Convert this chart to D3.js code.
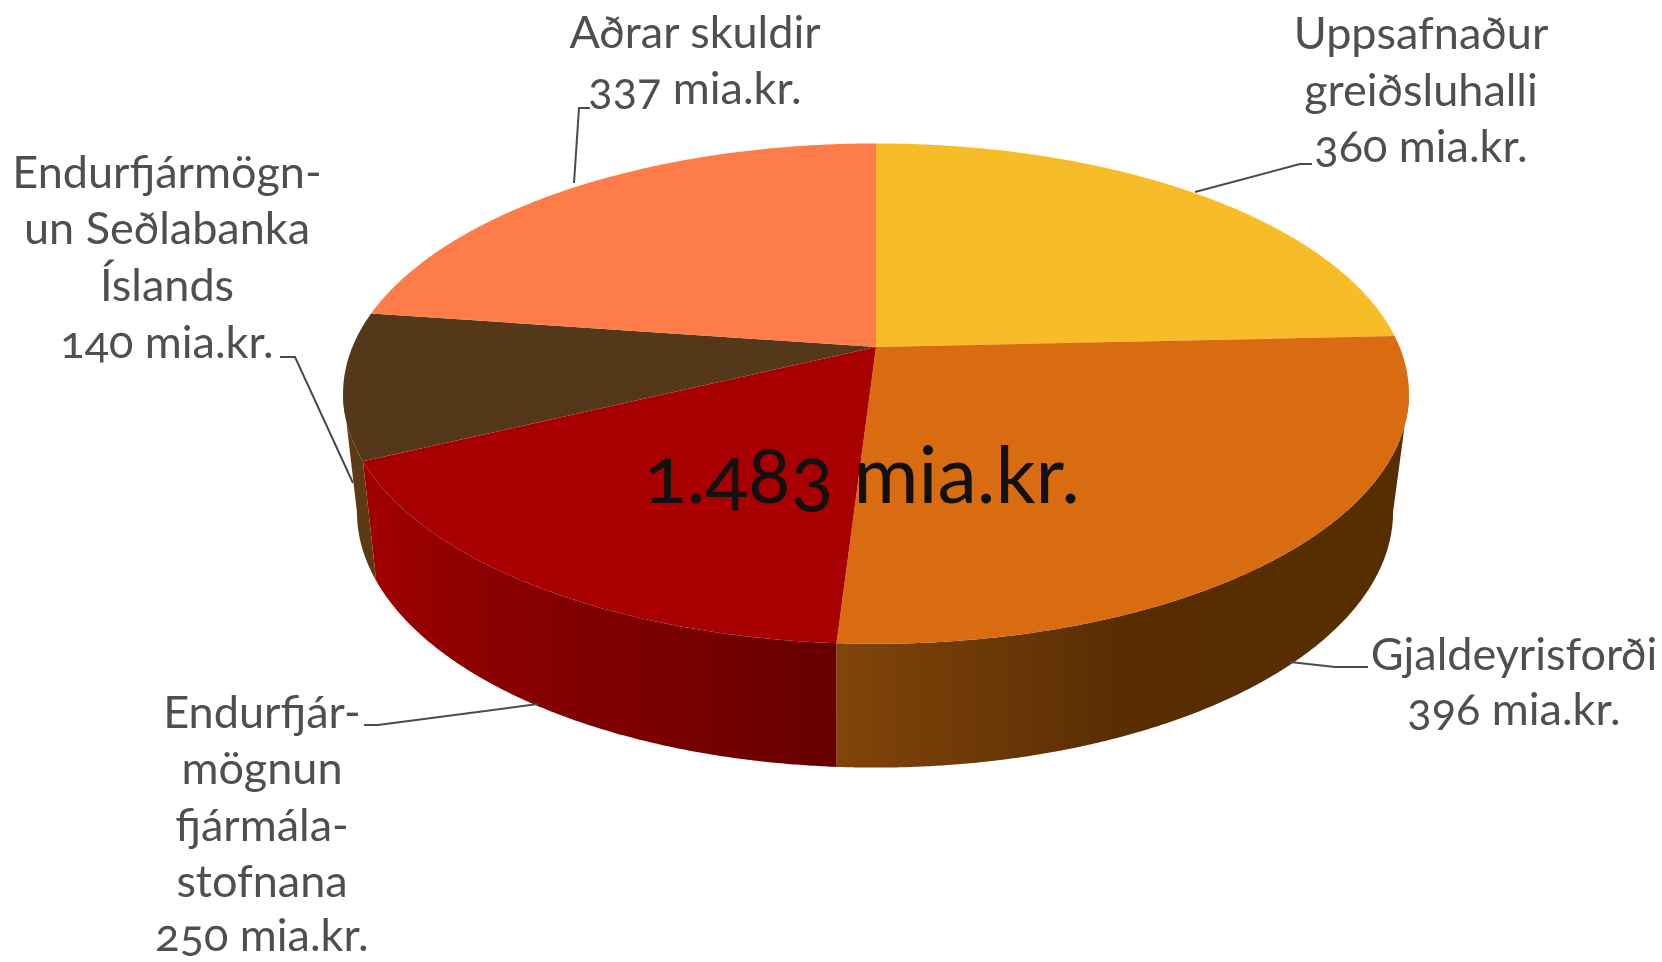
<!DOCTYPE html>
<html><head><meta charset="utf-8">
<script src="https://cdn.jsdelivr.net/npm/d3@7"></script>
<style>
html,body{margin:0;padding:0;background:#fff;overflow:hidden}
svg{display:block;filter:blur(0.55px)}
text{font-family:Lato,"Open Sans",sans-serif;font-variant-numeric:oldstyle-nums;font-feature-settings:"onum" 1,"lnum" 0;text-anchor:middle}
</style></head><body>
<svg id="c" width="1662" height="962"></svg>
<script>
// Data
const categories = ["Uppsafnaður greiðsluhalli","Gjaldeyrisforði","Endurfjármögnun fjármálastofnana","Endurfjármögnun Seðlabanka Íslands","Aðrar skuldir"];
const values = [360,396,250,140,337];
const totalLabel = "1.483 mia.kr.";
const labelLines = [
  ["Uppsafnaður","greiðsluhalli","360 mia.kr."],
  ["Gjaldeyrisforði","396 mia.kr."],
  ["Endurfjár-","mögnun","fjármála-","stofnana","250 mia.kr."],
  ["Endurfjármögn-","un Seðlabanka","Íslands","140 mia.kr."],
  ["Aðrar skuldir","337 mia.kr."]
];
const topColors = ["#f7bd28","#d96b10","#a80000","#55371a","#fe7c4a"];

// Layout
const labelPos = [
  {x:1421,y:[49,106,162]},
  {x:1514,y:[670,725]},
  {x:262,y:[728,784,841,897,951]},
  {x:167,y:[188,244,301,358]},
  {x:695,y:[48,104]}
];
const leaders = [
  [[1195,192],[1300,164],[1312,164]],
  [[1290,662],[1335,667],[1368,667]],
  [[538,704],[378,725],[364,725]],
  [[353,483],[295,357],[280,357]],
  [[574,183],[579,108],[590,108]]
];
const wallStops = {
  1:[[838,"#80450a"],[1000,"#6a3706"],[1130,"#582d02"],[1420,"#572d02"]],
  2:[[370,"#a00000"],[480,"#8c0000"],[650,"#7a0000"],[838,"#660000"]],
  3:[[340,"#5e3a14"],[380,"#5e3a14"]]
};
const K=0.1864;
const topDisk={cx:876,cy:347,a:523.6,b:241.5};
const botDisk={cx:875,cy:464,a:509,b:247};

const project=(d,t)=>{
  const u=Math.sin(t),v=Math.cos(t),w=1+K*v;
  return [d.cx+d.a*u/w,d.cy-d.b*v/w];
};
const svg=d3.select("#c");
const line=d3.line();
const arcs=d3.pie().sort(null).startAngle(0).endAngle(2*Math.PI)(values);
const steps=(a,b)=>d3.range(0,Math.max(2,Math.ceil((b-a)/0.005))+1).map((i,_,arr)=>a+(b-a)*i/(arr.length-1));

// side wall
const visA=Math.PI/2+Math.asin(K), visB=2*Math.PI-visA;
const defs=svg.append("defs");
Object.entries(wallStops).forEach(([i,st])=>{
  const g=defs.append("linearGradient").attr("id","w"+i).attr("gradientUnits","userSpaceOnUse")
    .attr("x1",st[0][0]).attr("x2",st[st.length-1][0]).attr("y1",0).attr("y2",0);
  st.forEach(s=>g.append("stop").attr("offset",(s[0]-st[0][0])/(st[st.length-1][0]-st[0][0])).attr("stop-color",s[1]));
});
svg.append("g").selectAll("path").data(arcs.filter((d,i)=>wallStops[i])).join("path")
  .attr("fill",d=>`url(#w${d.index})`)
  .attr("d",d=>{
    const a=Math.max(d.startAngle,visA),b=Math.min(d.endAngle,visB);
    const ts=steps(a,b);
    return line(ts.map(t=>project(topDisk,t)).concat(ts.slice().reverse().map(t=>project(botDisk,t))))+"Z";
  });

// top face
svg.append("g").selectAll("path").data(arcs).join("path")
  .attr("fill",(d,i)=>topColors[i])
  .attr("d",d=>line([[topDisk.cx,topDisk.cy]].concat(steps(d.startAngle,d.endAngle).map(t=>project(topDisk,t))))+"Z");

// leaders
svg.append("g").selectAll("path").data(leaders).join("path")
  .attr("fill","none").attr("stroke","#4a4a4a").attr("stroke-width",2)
  .attr("d",d=>line(d));

// labels
const lg=svg.append("g").selectAll("g").data(labelLines).join("g");
lg.selectAll("text").data((d,i)=>d.map((s,j)=>({s,x:labelPos[i].x,y:labelPos[i].y[j]}))).join("text")
  .attr("x",d=>d.x).attr("y",d=>d.y).attr("font-size",45).attr("fill","#4f4f4f").text(d=>d.s);
svg.append("text").attr("x",862).attr("y",503).attr("font-size",79).attr("fill","#111").text(totalLabel);
</script></body></html>
